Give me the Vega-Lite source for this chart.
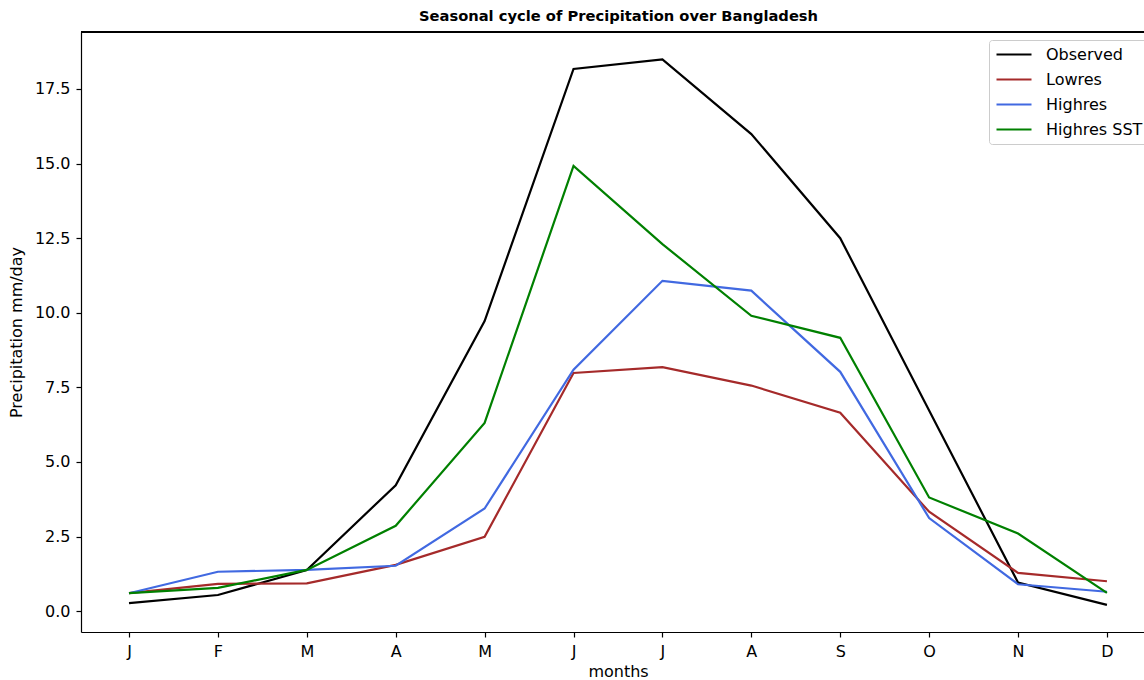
{
  "$schema": "https://vega.github.io/schema/vega-lite/v6.json",
  "autosize": {"type": "none"},
  "padding": {"left": 81, "top": 32, "right": 0, "bottom": 48},
  "width": 1063,
  "height": 600,
  "background": "white",
  "config": {
    "font": "DejaVu Sans",
    "view": {"stroke": null},
    "axis": {"labelFont": "DejaVu Sans", "titleFont": "DejaVu Sans", "labelColor": "black", "titleColor": "black", "domainColor": "black", "tickColor": "black", "grid": false, "labelFontSize": 16, "titleFontSize": 16, "titleFontWeight": "normal", "tickSize": 5, "domainWidth": 1.2, "tickWidth": 1.2}
  },
  "title": {"text": "Seasonal cycle of Precipitation over Bangladesh", "font": "DejaVu Sans", "fontSize": 14.7, "fontWeight": "bold", "color": "black", "anchor": "middle", "dx": 6, "offset": 8},
  "data": {"values": [
    {"m": 0, "series": "Observed", "v": 0.27},
    {"m": 1, "series": "Observed", "v": 0.54},
    {"m": 2, "series": "Observed", "v": 1.38},
    {"m": 3, "series": "Observed", "v": 4.22},
    {"m": 4, "series": "Observed", "v": 9.72},
    {"m": 5, "series": "Observed", "v": 18.17},
    {"m": 6, "series": "Observed", "v": 18.49},
    {"m": 7, "series": "Observed", "v": 15.99},
    {"m": 8, "series": "Observed", "v": 12.5},
    {"m": 9, "series": "Observed", "v": 6.72},
    {"m": 10, "series": "Observed", "v": 0.96},
    {"m": 11, "series": "Observed", "v": 0.21},
    {"m": 0, "series": "Lowres", "v": 0.6},
    {"m": 1, "series": "Lowres", "v": 0.91},
    {"m": 2, "series": "Lowres", "v": 0.93},
    {"m": 3, "series": "Lowres", "v": 1.55},
    {"m": 4, "series": "Lowres", "v": 2.49},
    {"m": 5, "series": "Lowres", "v": 7.98},
    {"m": 6, "series": "Lowres", "v": 8.18},
    {"m": 7, "series": "Lowres", "v": 7.56},
    {"m": 8, "series": "Lowres", "v": 6.65},
    {"m": 9, "series": "Lowres", "v": 3.33},
    {"m": 10, "series": "Lowres", "v": 1.28},
    {"m": 11, "series": "Lowres", "v": 1.0},
    {"m": 0, "series": "Highres", "v": 0.6},
    {"m": 1, "series": "Highres", "v": 1.32},
    {"m": 2, "series": "Highres", "v": 1.38},
    {"m": 3, "series": "Highres", "v": 1.52},
    {"m": 4, "series": "Highres", "v": 3.44},
    {"m": 5, "series": "Highres", "v": 8.09},
    {"m": 6, "series": "Highres", "v": 11.07},
    {"m": 7, "series": "Highres", "v": 10.74},
    {"m": 8, "series": "Highres", "v": 8.02},
    {"m": 9, "series": "Highres", "v": 3.12},
    {"m": 10, "series": "Highres", "v": 0.9},
    {"m": 11, "series": "Highres", "v": 0.65},
    {"m": 0, "series": "Highres SST", "v": 0.6},
    {"m": 1, "series": "Highres SST", "v": 0.78},
    {"m": 2, "series": "Highres SST", "v": 1.38},
    {"m": 3, "series": "Highres SST", "v": 2.86},
    {"m": 4, "series": "Highres SST", "v": 6.31},
    {"m": 5, "series": "Highres SST", "v": 14.92},
    {"m": 6, "series": "Highres SST", "v": 12.3},
    {"m": 7, "series": "Highres SST", "v": 9.9},
    {"m": 8, "series": "Highres SST", "v": 9.16},
    {"m": 9, "series": "Highres SST", "v": 3.81},
    {"m": 10, "series": "Highres SST", "v": 2.6},
    {"m": 11, "series": "Highres SST", "v": 0.61}
  ]},
  "layer": [
    {
      "mark": {"type": "line", "strokeWidth": 2.2, "clip": true},
      "encoding": {
        "x": {"field": "m", "type": "quantitative", "scale": {"domain": [-0.54, 11.417], "nice": false, "zero": false},
              "axis": {"title": "months", "values": [0,1,2,3,4,5,6,7,8,9,10,11], "labelExpr": "['J','F','M','A','M','J','J','A','S','O','N','D'][datum.value]", "labelPadding": 6, "titlePadding": 4, "titleX": 537}},
        "y": {"field": "v", "type": "quantitative", "scale": {"domain": [-0.7, 19.41], "nice": false, "zero": false},
              "axis": {"title": "Precipitation mm/day", "values": [0, 2.5, 5, 7.5, 10, 12.5, 15, 17.5], "format": ".1f", "labelPadding": 6, "titlePadding": 10}},
        "color": {"field": "series", "type": "nominal",
          "scale": {"domain": ["Observed", "Lowres", "Highres", "Highres SST"], "range": ["#000000", "#a52a2a", "#4169e1", "#008000"]},
          "legend": {"title": null, "orient": "none", "legendX": 908, "legendY": 8, "symbolType": "M-1,0H4", "symbolSize": 196, "symbolStrokeWidth": 2.2, "labelFontSize": 16, "labelFont": "DejaVu Sans", "labelColor": "black", "labelOffset": 34, "rowPadding": 8, "padding": 6, "strokeColor": "#cccccc", "fillColor": "white", "cornerRadius": 3}
        }
      }
    },
    {
      "mark": {"type": "rule", "color": "black", "strokeWidth": 1.2},
      "encoding": {"y": {"datum": 19.41}}
    }
  ]
}
